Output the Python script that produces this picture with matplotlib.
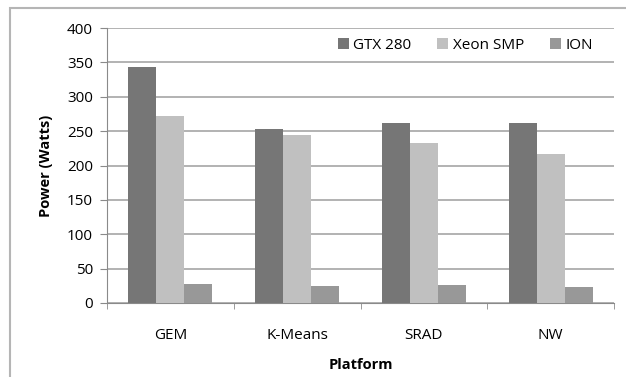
import matplotlib.pyplot as plt
import numpy as np
from matplotlib.patches import Rectangle

plt.rcParams['font.family'] = ['Open Sans', 'DejaVu Sans']

platforms = ['GEM', 'K-Means', 'SRAD', 'NW']
series_names = ['GTX 280', 'Xeon SMP', 'ION']
gtx = [344, 253, 262, 262]
xeon = [272, 245, 233, 217]
ion = [27, 25, 26, 23]
colors = ['#767676', '#c0c0c0', '#989898']

W, H = 626, 377
fig = plt.figure(figsize=(W / 100, H / 100), dpi=100)
# chart border (cropped on right and bottom)
fig.patches.append(Rectangle((10 / W, -0.1), 1.2, 1.1 - 8 / H, transform=fig.transFigure,
                             fill=False, edgecolor='#b5b5b5', lw=1.5))

ax = fig.add_axes([107 / W, (H - 303) / H, (614 - 107) / W, (303 - 28) / H])

x = np.arange(len(platforms))
bw = 0.221
for i, (name, vals) in enumerate(zip(series_names, [gtx, xeon, ion])):
    ax.bar(x + (i - 1) * bw, vals, bw, color=colors[i], label=name, zorder=3)

ax.set_xlim(-0.5, len(platforms) - 0.5)
ax.set_ylim(0, 400)
ax.set_yticks(range(0, 401, 50))
ax.set_xticks(x)
ax.set_xticklabels(platforms)
ax.set_xticks(np.arange(-0.5, len(platforms), 1), minor=True)
ax.tick_params(axis='x', which='major', length=0, pad=18, labelsize=11)
ax.tick_params(axis='x', which='minor', length=4, color='#8a8a8a')
ax.tick_params(axis='y', length=5, color='#8a8a8a', labelsize=11, pad=5)
ax.grid(axis='y', color='#a6a6a6', lw=1.2, zorder=0)

for s in ['top', 'right']:
    ax.spines[s].set_visible(False)
for s in ['left', 'bottom']:
    ax.spines[s].set_color('#8a8a8a')

ax.set_ylabel('Power (Watts)', fontweight='bold', fontsize=10.5, labelpad=10)
ax.set_xlabel('Platform', fontweight='bold', fontsize=10.5, labelpad=11)

leg = ax.legend(ncol=3, loc='upper right', bbox_to_anchor=(0.985, 1.015), frameon=False,
                fontsize=11, handlelength=0.7, handleheight=0.7, handletextpad=0.3,
                columnspacing=1.7)

fig.savefig('out.png', dpi=100)
